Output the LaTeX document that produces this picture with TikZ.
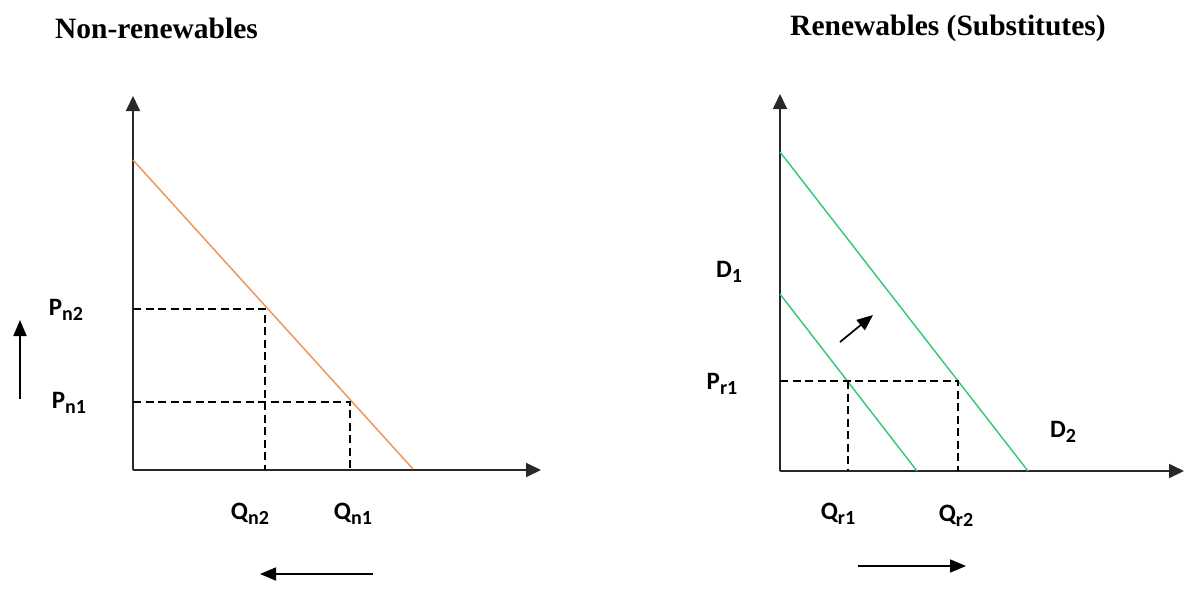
\documentclass[tikz,border=0pt]{standalone}
\usepackage{fontspec}
\setmainfont{Liberation Serif}
\newfontfamily\lblfont{Carlito}
\usetikzlibrary{arrows.meta}
\definecolor{orangeline}{RGB}{240,150,90}
\definecolor{greenline}{RGB}{60,200,120}
\definecolor{axisgray}{RGB}{40,40,40}
\newcommand{\lblsub}[1]{\raisebox{-0.22em}{\fontsize{20}{22}\selectfont #1}}
\tikzset{
  axis/.style={draw=axisgray,line width=1.8pt,-{Triangle[length=15pt,width=14pt]}},
  shiftarrow/.style={draw=black,line width=1.7pt,-{Triangle[length=16pt,width=13pt]}},
  guide/.style={draw=black,line width=1.4pt,dash pattern=on 8pt off 4.5pt},
  demand/.style={line width=1.5pt},
  title/.style={font=\bfseries\fontsize{29.5}{32}\selectfont,anchor=west,inner sep=0pt},
  lbl/.style={font=\lblfont\bfseries\fontsize{25}{28}\selectfont,inner sep=0pt},
}
\begin{document}
\begin{tikzpicture}[x=1pt,y=-1pt]
\useasboundingbox (0,0) rectangle (1185,592);
% ---------- Left panel ----------
\node[title] (t1) at (55,28) {Non-renewables};
\coordinate (o1) at (133,470);
\coordinate (y1) at (133,96);
\coordinate (x1) at (541,470);
\draw[axis] (o1) -- (y1);
\draw[axis] (o1) -- (x1);
\coordinate (s1) at (133,160);
\coordinate (e1) at (413,469);
\draw[demand,orangeline] (s1) -- (e1);
\coordinate (pn2) at (133,309);
\coordinate (an2) at (265,309);
\coordinate (qn2) at (265,470);
\coordinate (pn1) at (133,402);
\coordinate (an1) at (350,402);
\coordinate (qn1) at (350,470);
\draw[guide] (pn2) -- (an2) -- (qn2);
\draw[guide] (pn1) -- (an1) -- (qn1);
\node[lbl] (Pn2) at (66,310) {P\lblsub{n2}};
\node[lbl] (Pn1) at (69,403) {P\lblsub{n1}};
\node[lbl] (Qn2) at (250,514) {Q\lblsub{n2}};
\node[lbl] (Qn1) at (353,514) {Q\lblsub{n1}};
\coordinate (ua) at (20,399);
\coordinate (ub) at (20,320);
\draw[shiftarrow] (ua) -- (ub);
\coordinate (la) at (373,574);
\coordinate (lb) at (260,574);
\draw[shiftarrow] (la) -- (lb);
% ---------- Right panel ----------
\node[title] (t2) at (790,28) {Renewables (Substitutes)};
\coordinate (o2) at (780,471);
\coordinate (y2) at (780,94);
\coordinate (x2) at (1184,471);
\draw[axis] (o2) -- (y2);
\draw[axis] (o2) -- (x2);
\coordinate (d1s) at (780,294);
\coordinate (d1e) at (917,471);
\coordinate (d2s) at (780,152);
\coordinate (d2e) at (1028,471);
\draw[demand,greenline] (d1s) -- (d1e);
\draw[demand,greenline] (d2s) -- (d2e);
\coordinate (pr1) at (780,381);
\coordinate (ar1) at (848,381);
\coordinate (qr1) at (848,471);
\coordinate (ar2) at (958,381);
\coordinate (qr2) at (958,471);
\draw[guide] (pr1) -- (ar2) -- (qr2);
\draw[guide] (ar1) -- (qr1);
\node[lbl] (D1) at (729,272) {D\lblsub{1}};
\node[lbl] (D2) at (1063,432) {D\lblsub{2}};
\node[lbl] (Pr1) at (722,384) {P\lblsub{r1}};
\node[lbl] (Qr1) at (838,514) {Q\lblsub{r1}};
\node[lbl] (Qr2) at (956,516) {Q\lblsub{r2}};
\coordinate (da) at (840,342);
\coordinate (db) at (873,315);
\draw[shiftarrow] (da) -- (db);
\coordinate (ra) at (858,566);
\coordinate (rb) at (966,566);
\draw[shiftarrow] (ra) -- (rb);
\end{tikzpicture}
\end{document}
